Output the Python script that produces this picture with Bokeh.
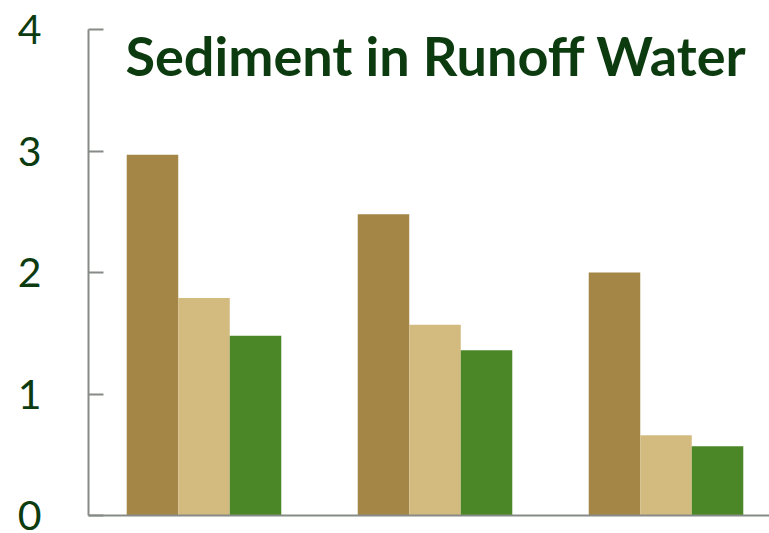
from bokeh.plotting import figure
from bokeh.models import Label, FixedTicker, ColumnDataSource
from bokeh.transform import dodge
from bokeh.embed import file_html
from bokeh.resources import INLINE

# data
groups = [0, 1, 2]
series_names = ["Series 1", "Series 2", "Series 3"]
series_1 = [2.97, 2.48, 2.00]
series_2 = [1.79, 1.57, 0.66]
series_3 = [1.48, 1.36, 0.57]
y_ticks = [0, 1, 2, 3, 4]
title_text = "Sediment in Runoff Water"

colors = ["#a48646", "#d3bb80", "#4b8726"]
axis_gray = "#878b87"
text_green = "#0d3b10"

src = ColumnDataSource(dict(x=groups, s1=series_1, s2=series_2, s3=series_3))

p = figure(width=769, height=533, x_range=(-0.5, 2.448), y_range=(0, 4),
           output_backend="svg", toolbar_location=None,
           min_border_left=88, min_border_right=0, min_border_top=29, min_border_bottom=18)

bw = 0.223
for key, off, col in zip(["s1", "s2", "s3"], [-bw, 0.0, bw], colors):
    p.vbar(x=dodge("x", off), top=key, width=bw, bottom=0, source=src,
           fill_color=col, line_color=None)

p.outline_line_color = None
p.xgrid.grid_line_color = None
p.ygrid.grid_line_color = None
p.background_fill_color = "white"
p.border_fill_color = "white"

xa = p.xaxis[0]
xa.ticker = FixedTicker(ticks=[])
xa.axis_line_color = axis_gray
xa.axis_line_width = 2
xa.major_tick_line_color = None
xa.minor_tick_line_color = None
xa.major_label_text_font_size = "0px"

ya = p.yaxis[0]
ya.ticker = FixedTicker(ticks=y_ticks)
ya.axis_line_color = axis_gray
ya.axis_line_width = 2
ya.major_tick_line_color = axis_gray
ya.major_tick_line_width = 2
ya.major_tick_in = 15
ya.major_tick_out = 0
ya.minor_tick_line_color = None
ya.major_label_standoff = 47
ya.major_label_text_font = "Lato"
ya.major_label_text_font_size = "41px"
ya.major_label_text_color = text_green

title = Label(x=-0.34, y=3.787, text=title_text, text_font="Lato",
              text_font_size="54px", text_font_style="bold", text_color=text_green,
              text_baseline="alphabetic", text_align="left")
p.add_layout(title)

open("out.html", "w").write(file_html(p, INLINE))
